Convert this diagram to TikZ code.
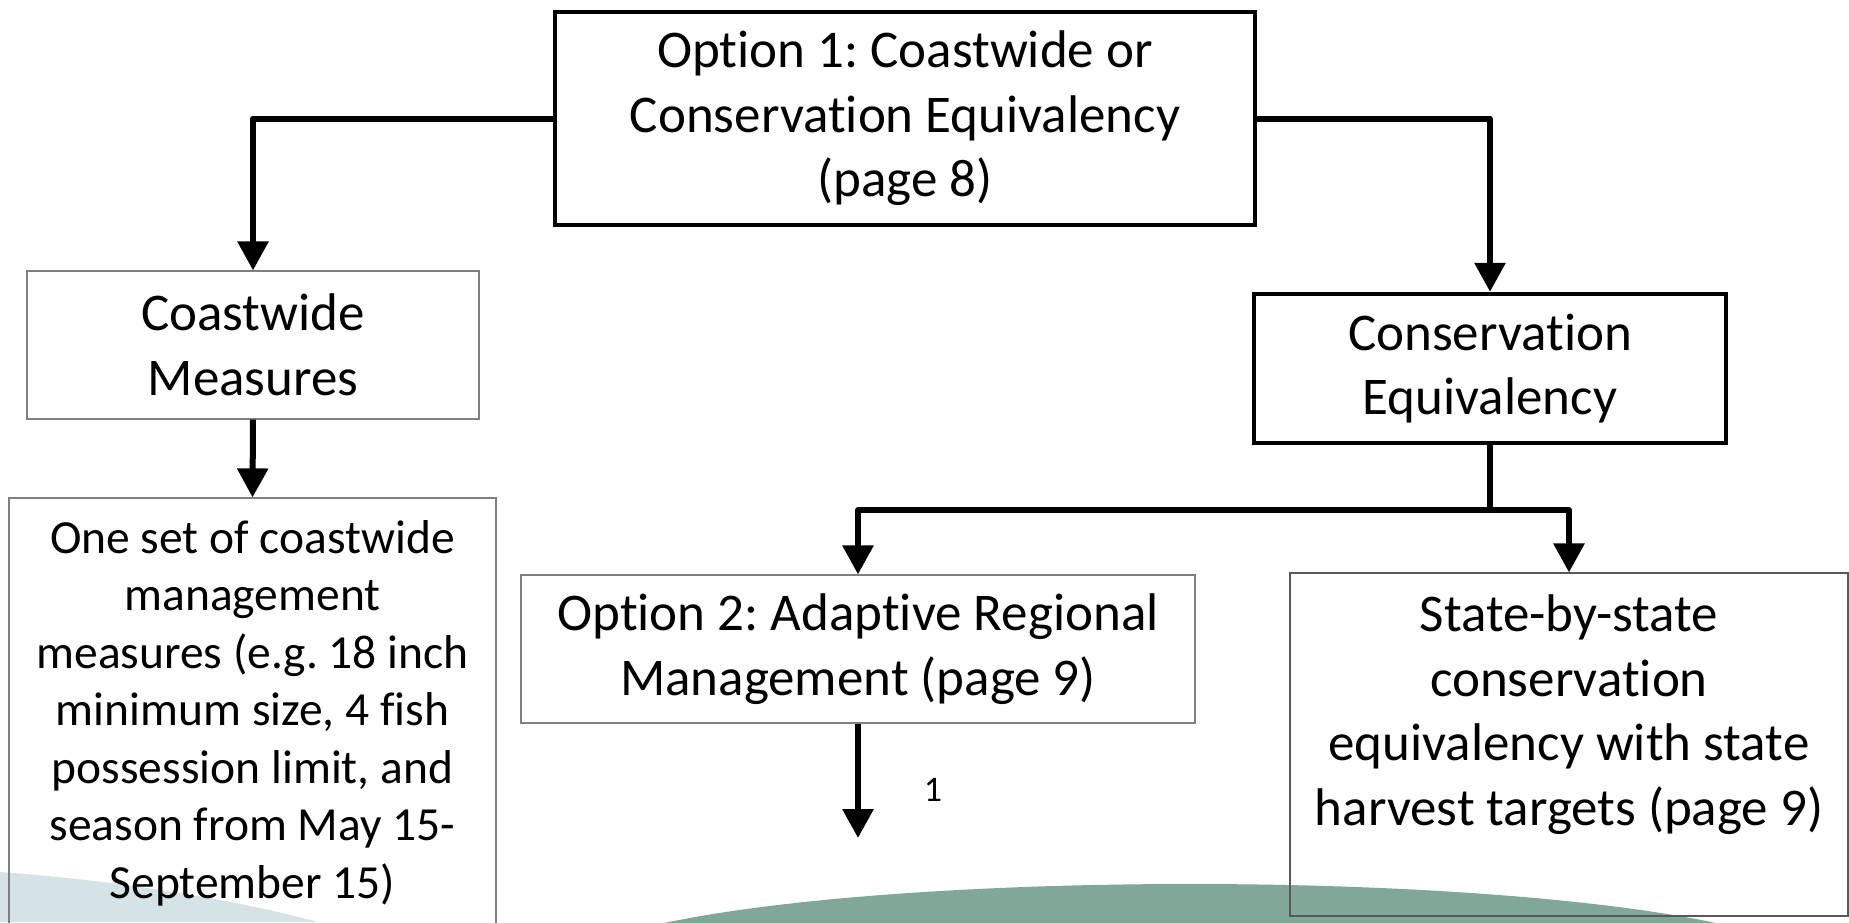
\documentclass[tikz,border=0pt]{standalone}
\usepackage{fontspec}
\setmainfont{Carlito}[Ligatures=NoCommon]
\frenchspacing
\usepackage{tikz}
\usetikzlibrary{arrows.meta}
\usepackage{xcolor}
\definecolor{swoosh}{HTML}{D5E3E6}
\definecolor{dome}{HTML}{80A798}
\definecolor{thinline}{HTML}{7F7F7F}

\begin{document}
\begin{tikzpicture}[
			x=0.5pt, y=-0.5pt,
			bigtext/.style={align=center,font=\fontsize{26.5}{32.3}\selectfont},
			smalltext/.style={align=center,font=\fontsize{23.75}{28.75}\selectfont},
			thickbox/.style={rectangle,draw,line width=2.2pt,inner sep=0pt,bigtext},
			thinbox/.style={rectangle,draw=thinline,line width=0.6pt,inner sep=0pt,bigtext},
			link/.style={line width=3pt,line join=round,-{Triangle[length=14.5pt,width=15pt]}},
			]
			\useasboundingbox (0,0) rectangle (1849,922);
			\begin{scope}
				\clip (0,0) rectangle (1849,922);
				\fill[swoosh] (0,872) .. controls (110,880) and (230,898) .. (318,922) -- (0,922) -- cycle;
				\fill[dome] (1190,967) ellipse [x radius=310pt, y radius=41.5pt];
			\end{scope}
			\node [thickbox,minimum width=350pt,minimum height=106.5pt] (opt1) at (905,118.5) {Option 1: Coastwide or\\ Conservation Equivalency\\ (page 8)};
			\node [thinbox,minimum width=226pt,minimum height=74pt] (coast) at (253,345) {Coastwide\\ Measures};
			\node [thinbox,minimum width=243.5pt,minimum height=230pt] (oneset) at (252.5,728) {};
			\node [smalltext] (onesettext) at (252.5,713) {One set of coastwide\\ management\\ measures (e.g. 18 inch\\ minimum size, 4 fish\\ possession limit, and\\ season from May 15-\\ September 15)};
			\node [thickbox,minimum width=236pt,minimum height=74.5pt] (cons) at (1490,368.5) {Conservation\\ Equivalency};
			\node [thinbox,minimum width=337pt,minimum height=74pt] (opt2) at (858,649) {Option 2: Adaptive Regional\\ Management (page 9)};
			\node [thinbox,draw=black!65,minimum width=279pt,minimum height=171.5pt] (state) at (1569,744.5) {};
			\node [bigtext] (statetext) at (1569,714.5) {State-by-state\\ conservation\\ equivalency with state\\ harvest targets (page 9)};
			\node [font=\fontsize{18}{21}\selectfont] (note) at (933,790) {1};
			\path (cons.south) ++(0,65) coordinate (fork);
			\coordinate (loose) at (858,838);
			\draw[link] (opt1.west) -| (coast.north);
			\draw[link] (opt1.east) -| (cons.north);
			\draw[link] (coast.south) -- (oneset.north);
			\draw[line width=3pt] (cons.south) -- (fork);
			\draw[link] (fork) -| (opt2.north);
			\draw[link] (fork) -| (state.north);
			\draw[link] (opt2.south) -- (loose);
		\end{tikzpicture}
\end{document}
